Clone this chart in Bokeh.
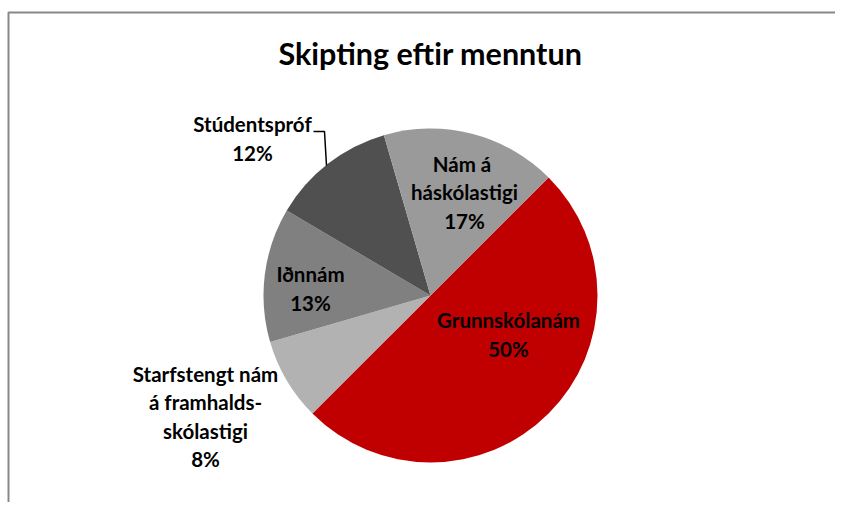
import numpy as np
from bokeh.plotting import figure
from bokeh.models import Range1d
from bokeh.core.properties import value
from bokeh.embed import file_html
from bokeh.resources import INLINE

categories = ["Grunnskólanám", "Starfstengt nám á framhalds-skólastigi", "Iðnnám", "Stúdentspróf", "Nám á háskólastigi"]
shares = [50, 8, 13, 12, 17]
colors = ["#C00000", "#B2B2B2", "#808080", "#505050", "#9A9A9A"]
label_texts = ["Grunnskólanám\n50%", "Starfstengt nám\ná framhalds-\nskólastigi\n8%", "Iðnnám\n13%",
               "Stúdentspróf\n12%", "Nám á \nháskólastigi\n17%"]

W, H = 835, 502
p = figure(width=W, height=H, output_backend="svg", toolbar_location=None,
           x_range=Range1d(0, W), y_range=Range1d(0, H), min_border=0)
p.axis.visible = False
p.grid.visible = False
p.outline_line_color = None
p.background_fill_color = "white"

def px(X):
    return X

def py(Y):
    return H - Y

# frame border
p.line([px(8), px(8), W + 5], [-5, py(12), py(12)], line_color="#888888", line_width=2)

cx, cy, r = px(430), py(295), 167
start_deg = 45.0
fr = np.array(shares, dtype=float) / sum(shares)
cum = np.concatenate([[0], np.cumsum(fr)])
starts = np.radians(start_deg - 360 * cum[:-1])
ends = np.radians(start_deg - 360 * cum[1:])
p.wedge(x=[cx] * len(shares), y=[cy] * len(shares), radius=r, start_angle=list(starts), end_angle=list(ends),
        direction="clock", fill_color=colors, line_color=None)

# leader line for Stúdentspróf
p.line([px(313), px(324), px(326)], [py(131), py(131), py(165)], line_color="black", line_width=1.5)

lab_x = [px(508), px(205), px(310), px(252), px(464)]
lab_y = [py(334), py(416), py(288), py(138), py(192)]
p.text(x=lab_x, y=lab_y, text=label_texts, text_font=value("Lato"), text_font_style="bold",
       text_font_size="20.5px", text_align="center", text_baseline="middle", text_color="black",
       text_line_height=1.17)

p.text(x=[px(430)], y=[py(52)], text=["Skipting eftir menntun"], text_font=value("Lato"),
       text_font_style="bold", text_font_size="30.5px", text_align="center", text_baseline="middle",
       text_color="black")

open("out.html", "w").write(file_html(p, INLINE))
